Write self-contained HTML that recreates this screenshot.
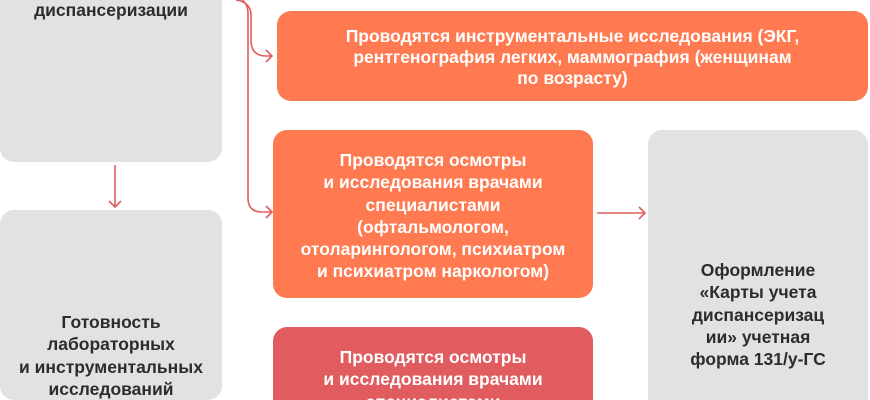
<!DOCTYPE html>
<html style="width:870px;height:400px;overflow:hidden"><head><meta charset="utf-8"><style>
body{margin:0;width:870px;height:400px;overflow:hidden;background:#fff;position:relative;font-family:"Liberation Sans","DejaVu Sans",sans-serif;font-weight:bold;}
.b{position:absolute;border-radius:14px;overflow:hidden}
.t{position:absolute;left:0;right:0;text-align:center;font-size:17.5px;line-height:22.3px;white-space:nowrap;}
.g{background:#e2e2e2;color:#2c2c2c}
.o{background:#ff7a50;color:#fff}
.r{background:#e05c5f;color:#fff}
</style></head><body>
<div class="b g" style="left:0;top:-20px;width:222px;height:182px"><div class="t" style="top:19px">диспансеризации</div></div>
<div class="b g" style="left:0;top:210px;width:222px;height:190px"><div class="t" style="top:101px">Готовность<br>лабораторных<br>и инструментальных<br>исследований</div></div>
<div class="b o" style="left:277px;top:11px;width:591px;height:90px"><div class="t" style="top:15px;line-height:21px">Проводятся инструментальные исследования (ЭКГ,<br>рентгенография легких, маммография (женщинам<br>по возрасту)</div></div>
<div class="b o" style="left:273px;top:130px;width:320px;height:168px"><div class="t" style="top:19px">Проводятся осмотры<br>и исследования врачами<br>специалистами<br>(офтальмологом,<br>отоларингологом, психиатром<br>и психиатром наркологом)</div></div>
<div class="b r" style="left:273px;top:327px;width:320px;height:73px;border-radius:14px 14px 0 0"><div class="t" style="top:19px">Проводятся осмотры<br>и исследования врачами<br>специалистами</div></div>
<div class="b g" style="left:648px;top:130px;width:220px;height:270px;border-radius:14px 14px 0 0"><div class="t" style="top:129px">Оформление<br>«Карты учета<br>диспансеризац<br>ии» учетная<br>форма 131/у-ГС</div></div>
<svg width="870" height="400" style="position:absolute;left:0;top:0" fill="none" stroke="#e05c5f" stroke-width="1.6">
<path d="M236,0 Q250,2 251,14 L251,40 Q251,56 266,56 L272,56"/>
<path d="M266,50 L272,56 L266,62"/>
<path d="M242,0 Q248,4 248,14 L248,198 Q248,212 262,212 L272,212"/>
<path d="M266,206 L272,212 L266,218"/>
<path d="M115,165 L115,207 M109,201 L115,207 L121,201"/>
<path d="M597,213 L645,213 M639,207 L645,213 L639,219"/>
</svg>
</body></html>
